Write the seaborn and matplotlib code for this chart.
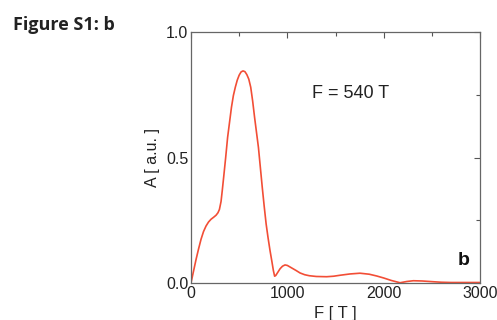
import matplotlib
matplotlib.use("Agg")
import matplotlib.pyplot as plt
import seaborn as sns
import pandas as pd
from matplotlib.ticker import MultipleLocator

F_vals = [0, 25, 52, 78, 104, 130, 156, 182, 208, 235, 260, 280, 295, 312, 325, 340,
          360, 380, 400, 420, 440, 460, 480, 500, 520, 540, 560, 580, 600, 620, 640,
          660, 680, 700, 720, 740, 760, 780, 800, 820, 840, 855, 868, 880, 900, 925,
          950, 976, 1000, 1045, 1090, 1132, 1180, 1228, 1300, 1408, 1480, 1550, 1650,
          1754, 1850, 1927, 2000, 2080, 2170, 2240, 2308, 2400, 2516, 2600, 2700, 3000]
A_vals = [0.0, 0.045, 0.093, 0.135, 0.174, 0.205, 0.227, 0.243, 0.254, 0.262, 0.270,
          0.280, 0.293, 0.325, 0.370, 0.425, 0.500, 0.580, 0.640, 0.700, 0.747, 0.780,
          0.808, 0.828, 0.841, 0.845, 0.842, 0.830, 0.812, 0.780, 0.725, 0.660, 0.600,
          0.540, 0.460, 0.380, 0.305, 0.235, 0.180, 0.130, 0.085, 0.050, 0.027, 0.030,
          0.042, 0.057, 0.067, 0.072, 0.070, 0.060, 0.050, 0.040, 0.033, 0.029, 0.026,
          0.025, 0.027, 0.031, 0.036, 0.039, 0.035, 0.028, 0.020, 0.010, 0.001, 0.006,
          0.009, 0.008, 0.005, 0.003, 0.002, 0.002]
x_ticks = [0, 1000, 2000, 3000]
y_ticks = [0.0, 0.5, 1.0]
annotation = "F = 540 T"
panel = "b"
title = "Figure S1: b"

df = pd.DataFrame({"F": F_vals, "A": A_vals})

sns.set_theme(style="white")
plt.rcParams['font.family'] = ['Liberation Sans', 'DejaVu Sans']

fig = plt.figure(figsize=(4.97, 3.2), dpi=100)
ax = fig.add_axes([191/497, 1 - 283/320, (480-191)/497, (283-32)/320])
sns.lineplot(data=df, x="F", y="A", ax=ax, color="#f24e36", linewidth=1.2)

ax.set_xlim(0, 3000)
ax.set_ylim(0, 1.0)
ax.set_xticks(x_ticks)
ax.set_yticks(y_ticks)
ax.set_yticklabels([f"{v:.1f}" for v in y_ticks])
ax.xaxis.set_minor_locator(MultipleLocator(500))
ax.yaxis.set_minor_locator(MultipleLocator(0.25))
ax.tick_params(which="both", direction="in", top=True, right=True, colors="#555555",
               labelcolor="#222222", labelsize=11.5, pad=2)
ax.tick_params(which="major", length=4, width=0.8)
ax.tick_params(which="minor", length=3, width=0.8)
for s in ax.spines.values():
    s.set_color("#666666")
    s.set_linewidth(0.9)

ax.set_xlabel("F [ T ]", fontsize=12, color="#222222", labelpad=4)
ax.set_ylabel("A [ a.u. ]", fontsize=11.5, color="#222222", labelpad=4)

ax.text(0.42, 0.755, annotation, transform=ax.transAxes, fontsize=13, color="#222222",
        ha="left", va="center")
ax.text(0.945, 0.09, panel, transform=ax.transAxes, fontsize=14, fontweight="bold",
        color="#111111", ha="center", va="center")

fig.text(13/497, 1 - 25/320, title, fontsize=13, fontweight="bold", color="#222222",
         ha="left", va="center", family=["Open Sans", "DejaVu Sans"])

fig.savefig("out.png", dpi=100, facecolor="white")
